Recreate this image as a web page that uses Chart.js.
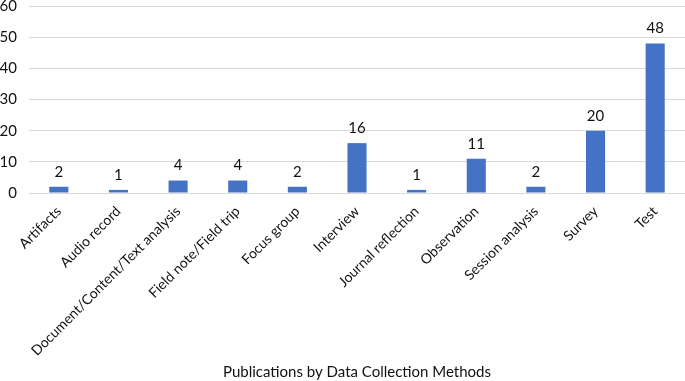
<!DOCTYPE html>
<html>
<head>
<meta charset="utf-8">
<script src="https://cdn.jsdelivr.net/npm/chart.js@4.4.1/dist/chart.umd.min.js"></script>
<style>
html,body{margin:0;padding:0;background:#fff;}
#wrap{width:685px;height:381px;position:relative;overflow:hidden;}
#c{position:absolute;left:0;top:-15px;}
</style>
</head>
<body>
<div id="wrap"><canvas id="c" width="685" height="396"></canvas></div>
<script>
const categories = ["Artifacts","Audio record","Document/Content/Text analysis","Field note/Field trip","Focus group","Interview","Journal reflection","Observation","Session analysis","Survey","Test"];
const counts = [2,1,4,4,2,16,1,11,2,20,48];
const yTicks = [0,10,20,30,40,50,60];
const axisTitle = "Publications by Data Collection Methods";

const FONT = "Lato, 'Open Sans', sans-serif";

const valueLabels = {
  id: 'valueLabels',
  afterDatasetsDraw(chart) {
    const ctx = chart.ctx;
    const meta = chart.getDatasetMeta(0);
    ctx.save();
    ctx.font = "15px " + FONT;
    ctx.fillStyle = "#111";
    ctx.textAlign = "center";
    ctx.textBaseline = "middle";
    meta.data.forEach((bar, i) => {
      ctx.fillText(String(counts[i]), bar.x, bar.y - 15);
    });
    ctx.restore();
  }
};

new Chart(document.getElementById('c'), {
  type: 'bar',
  data: {
    labels: categories,
    datasets: [{
      data: counts,
      backgroundColor: '#4472C4',
      borderWidth: 0,
      barPercentage: 0.32,
      categoryPercentage: 1.0
    }]
  },
  options: {
    responsive: false,
    animation: false,
    layout: { padding: { left: 0, right: 0, top: 0, bottom: 0 } },
    plugins: { legend: { display: false }, tooltip: { enabled: false } },
    scales: {
      y: {
        min: 0, max: 60,
        afterBuildTicks(axis) { axis.ticks = yTicks.map(v => ({ value: v })); },
        afterFit(axis) { axis.width = 29; },
        border: { display: false },
        grid: { color: '#d9d9d9', lineWidth: 1, drawTicks: false },
        ticks: { color: '#111', font: { family: FONT, size: 15 }, padding: 12 }
      },
      x: {
        afterFit(axis) { axis.height = 188; },
        border: { display: true, color: '#d9d9d9', width: 1 },
        grid: { display: false, drawTicks: false },
        ticks: { color: '#111', font: { family: FONT, size: 14 }, minRotation: 45, maxRotation: 45, padding: 10, autoSkip: false },
        title: { display: true, text: axisTitle, color: '#111', font: { family: FONT, size: 15 }, padding: { top: 4, bottom: 0 } }
      }
    }
  },
  plugins: [valueLabels]
});
</script>
</body>
</html>
